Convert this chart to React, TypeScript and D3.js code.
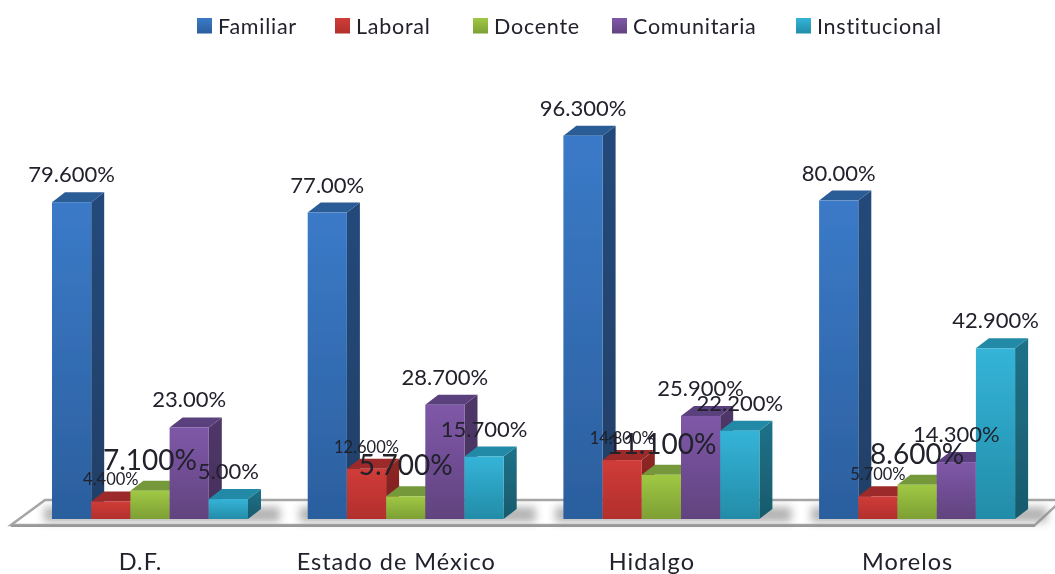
import React from "react";
import * as d3 from "d3";

const states = ["D.F.", "Estado de México", "Hidalgo", "Morelos"];
const seriesNames = ["Familiar", "Laboral", "Docente", "Comunitaria", "Institucional"];
const familiar = [79.6, 77.0, 96.3, 80.0];
const laboral = [4.4, 12.6, 14.8, 5.7];
const docente = [7.1, 5.7, 11.1, 8.6];
const comunitaria = [23.0, 28.7, 25.9, 14.3];
const institucional = [5.0, 15.7, 22.2, 42.9];
const labelsFamiliar = ["79.600%", "77.00%", "96.300%", "80.00%"];
const labelsLaboral = ["4.400%", "12.600%", "14.800%", "5.700%"];
const labelsDocente = ["7.100%", "5.700%", "11.100%", "8.600%"];
const labelsComunitaria = ["23.00%", "28.700%", "25.900%", "14.300%"];
const labelsInstitucional = ["5.00%", "15.700%", "22.200%", "42.900%"];
const legendX = [197, 335, 473, 612, 796];

const allValues = [familiar, laboral, docente, comunitaria, institucional];
const allLabels = [labelsFamiliar, labelsLaboral, labelsDocente, labelsComunitaria, labelsInstitucional];
const palette = [
  { light: "#3b7ac8", dark: "#2b5f9e", side: "#24497a", sideB: "#1f4068", top: "#2c5b96" },
  { light: "#d03c38", dark: "#b22f2c", side: "#8f2624", sideB: "#7d2020", top: "#9c2b29" },
  { light: "#a0c844", dark: "#7d9f34", side: "#65812a", sideB: "#597226", top: "#74983a" },
  { light: "#7f58a8", dark: "#61437f", side: "#4f3769", sideB: "#45305c", top: "#5a3f7c" },
  { light: "#34b4d8", dark: "#238ca8", side: "#1f7289", sideB: "#185a6c", top: "#228aa6" },
];
const labelSize = [22, 16.5, 28, 22, 22];
const labelGap = [20, 16, 21, 20, 20];

const BASE = 519;
const DX = 13;
const DY = 10;
const FONT = "Lato, 'Open Sans', sans-serif";

export default function App() {
  const groupStep = 255.7;
  const barW = 39.2;
  const x0 = d3.scaleBand<string>()
    .domain(states)
    .range([52 - (groupStep - barW * 5) / 2, 52 - (groupStep - barW * 5) / 2 + groupStep * 4]);
  const inner = d3.scaleBand<string>().domain(seriesNames).range([0, barW * 5]);
  const padLeft = (groupStep - barW * 5) / 2;
  const y = d3.scaleLinear().domain([0, 100]).range([BASE, 121]);

  const poly = (pts: [number, number][]) => d3.line()(pts) + "Z";

  return (
    <svg width={1055} height={574} style={{ position: "fixed", left: 0, top: 0, background: "#fff" }} fontFamily={FONT}>
      <defs>
        {palette.map((c, i) => (
          <React.Fragment key={i}>
            <linearGradient id={`f${i}`} x1="0" y1="0" x2="0" y2="1">
              <stop offset="0" stopColor={c.light} />
              <stop offset="1" stopColor={c.dark} />
            </linearGradient>
            <linearGradient id={`s${i}`} x1="0" y1="0" x2="0" y2="1">
              <stop offset="0" stopColor={c.side} />
              <stop offset="1" stopColor={c.sideB} />
            </linearGradient>
          </React.Fragment>
        ))}
        <filter id="soft" x="-5%" y="-5%" width="110%" height="110%">
          <feGaussianBlur stdDeviation="0.45" />
        </filter>
        <filter id="shadow" x="-15%" y="-80%" width="130%" height="260%">
          <feGaussianBlur stdDeviation="4" />
        </filter>
      </defs>

      <g filter="url(#soft)">
        {/* legend */}
        {seriesNames.map((name, i) => (
          <g key={name}>
            <rect x={legendX[i]} y={18} width={15} height={15.5} fill={`url(#f${i})`} />
            <text x={legendX[i] + 21} y={34} fontSize={21.5} letterSpacing={0.75} fill="#20202c">{name}</text>
          </g>
        ))}

        {/* floor */}
        <path d={poly([[11, 525], [45, 500], [1062, 500], [1035, 525]])} fill="#ffffff" stroke="#a6a6a6" strokeWidth={2.5} />
        <path d={poly([[11, 525], [1035, 525], [1035, 527], [11, 527]])} fill="#999" />
        {states.map((s) => (
          <rect key={s} x={(x0(s) ?? 0) + padLeft - 8} y={507} width={barW * 5 + 40} height={15} fill="#8a8a8a" opacity={0.65} filter="url(#shadow)" />
        ))}

        {/* bars */}
        {states.map((s, gi) => (
          <g key={s}>
            {seriesNames.map((name, si) => {
              const v = allValues[si][gi];
              const left = (x0(s) ?? 0) + padLeft + (inner(name) ?? 0);
              const right = left + barW;
              const top = y(v);
              return (
                <g key={name}>
                  <path d={poly([[right, top], [right + DX, top - DY], [right + DX, BASE - DY], [right, BASE]])} fill={`url(#s${si})`} />
                  <path d={poly([[left, top], [left + DX, top - DY], [right + DX, top - DY], [right, top]])} fill={palette[si].top} />
                  <rect x={left} y={top} width={barW} height={BASE - top} fill={`url(#f${si})`} />
                </g>
              );
            })}
          </g>
        ))}

        {/* data labels */}
        {states.map((s, gi) =>
          seriesNames.map((name, si) => {
            const left = (x0(s) ?? 0) + padLeft + (inner(name) ?? 0);
            return (
              <text
                key={name}
                x={left + barW / 2}
                y={y(allValues[si][gi]) - labelGap[si]}
                fontSize={labelSize[si]}
                textAnchor="middle"
                fill="#20202c"
              >
                {allLabels[si][gi]}
              </text>
            );
          })
        )}

        {/* categories */}
        {states.map((s) => (
          <text
            key={s}
            x={(x0(s) ?? 0) + x0.step() / 2 - 9.5}
            y={570}
            fontSize={23.5}
            letterSpacing={1}
            textAnchor="middle"
            fill="#20202c"
          >
            {s}
          </text>
        ))}
      </g>
    </svg>
  );
}
